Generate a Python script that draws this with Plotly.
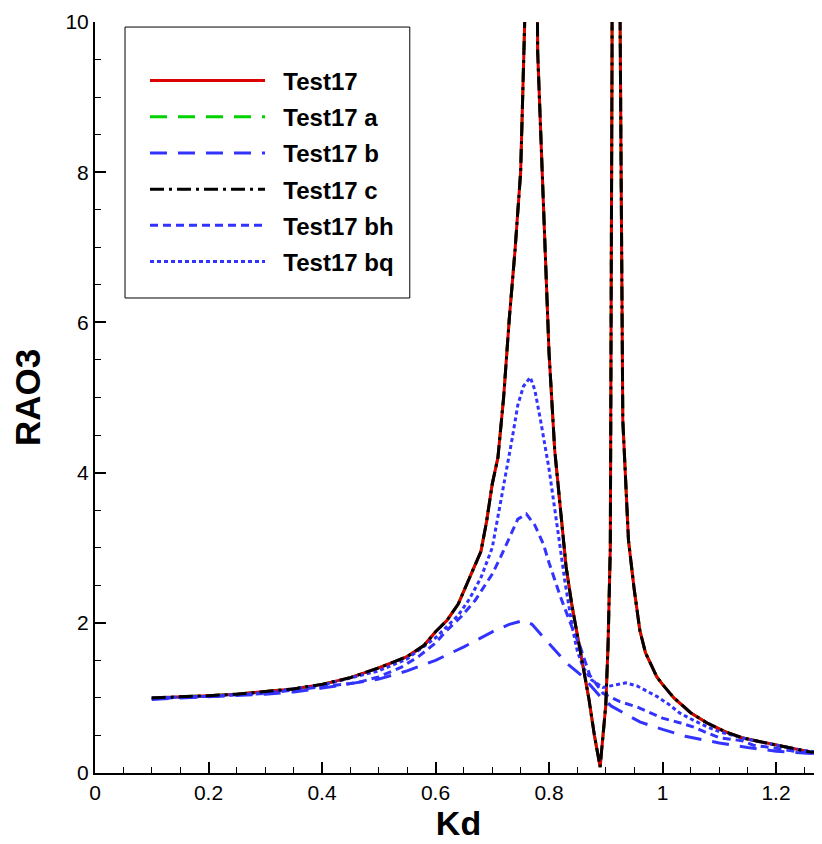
import plotly.graph_objects as go

# Test17 / Test17 a / Test17 c lie on top of each other
kd_main = [0.10, 0.15, 0.20, 0.25, 0.30, 0.35, 0.40, 0.45, 0.50, 0.55, 0.58, 0.60, 0.62, 0.64,
           0.66, 0.68, 0.69, 0.70, 0.71, 0.72, 0.73, 0.74, 0.75, 0.76, 0.77, 0.78, 0.79, 0.80,
           0.81, 0.82, 0.83, 0.84, 0.85, 0.86, 0.87, 0.88, 0.89, 0.90, 0.904, 0.908, 0.911,
           0.918, 0.925, 0.93, 0.94, 0.95, 0.96, 0.97, 0.98, 0.99, 1.00, 1.02, 1.05, 1.08,
           1.11, 1.14, 1.17, 1.20, 1.23, 1.26, 1.29]
rao_main = [1.00, 1.01, 1.03, 1.05, 1.08, 1.12, 1.18, 1.27, 1.40, 1.55, 1.70, 1.88, 2.03, 2.25,
            2.60, 2.95, 3.35, 3.85, 4.20, 5.00, 6.05, 6.95, 8.00, 10.8, 22.0, 9.6, 7.6, 5.6,
            4.3, 3.5, 2.75, 2.25, 1.85, 1.45, 1.00, 0.50, 0.08, 0.90, 1.70, 3.00, 9.5,
            40.0, 10.3, 4.7, 3.1, 2.45, 1.90, 1.60, 1.43, 1.28, 1.18, 1.00, 0.80, 0.66,
            0.55, 0.47, 0.42, 0.37, 0.32, 0.28, 0.26]

kd_b = [0.10, 0.20, 0.30, 0.35, 0.40, 0.45, 0.50, 0.55, 0.60, 0.65, 0.70, 0.73, 0.755, 0.77,
        0.80, 0.83, 0.86, 0.89, 0.91, 0.94, 0.96, 1.00, 1.04, 1.10, 1.15, 1.20, 1.25, 1.30]
rao_b = [0.98, 1.01, 1.05, 1.08, 1.13, 1.19, 1.25, 1.36, 1.50, 1.68, 1.88, 1.98, 2.03, 1.98,
         1.72, 1.47, 1.28, 1.02, 0.89, 0.77, 0.68, 0.58, 0.49, 0.40, 0.34, 0.29, 0.26, 0.24]

kd_bh = [0.10, 0.20, 0.30, 0.40, 0.46, 0.50, 0.54, 0.57, 0.60, 0.62, 0.645, 0.67, 0.68, 0.70,
         0.715, 0.73, 0.745, 0.76, 0.775, 0.79, 0.80, 0.82, 0.84, 0.855, 0.872, 0.895, 0.925,
         0.955, 0.98, 1.00, 1.03, 1.055, 1.08, 1.10, 1.14, 1.16, 1.20, 1.24, 1.30]
rao_bh = [0.99, 1.02, 1.06, 1.15, 1.20, 1.28, 1.41, 1.55, 1.73, 1.90, 2.08, 2.30, 2.42, 2.65,
          2.88, 3.14, 3.38, 3.45, 3.30, 3.05, 2.80, 2.35, 1.95, 1.68, 1.30, 1.06, 0.95,
          0.88, 0.80, 0.73, 0.67, 0.61, 0.53, 0.47, 0.43, 0.37, 0.33, 0.28, 0.24]

kd_bq = [0.10, 0.20, 0.30, 0.40, 0.50, 0.55, 0.60, 0.64, 0.66, 0.68, 0.70, 0.71, 0.72, 0.735,
         0.745, 0.755, 0.767, 0.775, 0.785, 0.80, 0.816, 0.828, 0.842, 0.85, 0.86, 0.875,
         0.895, 0.915, 0.935, 0.955, 0.97, 0.99, 1.01, 1.03, 1.055, 1.08, 1.10, 1.15, 1.20,
         1.25, 1.30]
rao_bq = [1.00, 1.02, 1.07, 1.17, 1.36, 1.52, 1.80, 2.10, 2.32, 2.60, 3.00, 3.40, 3.80, 4.45,
          4.90, 5.15, 5.27, 5.10, 4.70, 4.05, 3.20, 2.55, 1.90, 1.62, 1.41, 1.24,
          1.14, 1.17, 1.20, 1.16, 1.10, 1.02, 0.92, 0.80, 0.70, 0.61, 0.55, 0.45, 0.37,
          0.30, 0.25]

x_ticks = [0, 0.2, 0.4, 0.6, 0.8, 1, 1.2]
y_ticks = [0, 2, 4, 6, 8, 10]

BLUE = "rgb(51,51,255)"

fig = go.Figure()
# drawing order: green underneath, red, blues, black dash-dot on top; legend order via legendrank
series = [
    ("Test17 a", kd_main, rao_main, "rgb(0,210,0)", "17px,11px", 2),
    ("Test17", kd_main, rao_main, "rgb(220,0,0)", "solid", 1),
    ("Test17 b", kd_b, rao_b, BLUE, "17px,11px", 3),
    ("Test17 bh", kd_bh, rao_bh, BLUE, "8px,5px", 5),
    ("Test17 bq", kd_bq, rao_bq, BLUE, "4px,3px", 6),
    ("Test17 c", kd_main, rao_main, "black", "14px,5px,3px,5px", 4),
]
for name, xs, ys, color, dash, rank in series:
    fig.add_trace(go.Scatter(x=xs, y=ys, mode="lines",
                             name="&nbsp;&nbsp;<b>" + name + "</b>",
                             legendgroup=name, legendrank=rank,
                             line=dict(color=color, width=3, dash=dash)))

axis_common = dict(showline=True, linecolor="black", linewidth=2, mirror=False,
                   ticks="inside", ticklen=11, tickwidth=2, tickcolor="black",
                   showgrid=False, zeroline=False, automargin=False,
                   tickfont=dict(family="Liberation Sans Narrow, Liberation Sans", size=21, color="black"))

fig.update_xaxes(range=[0, 1.281], tickvals=x_ticks, ticktext=["0", "0.2", "0.4", "0.6", "0.8", "1", "1.2"],
                 minor=dict(dtick=0.05, ticks="inside", ticklen=6, tickwidth=1, tickcolor="black"),
                 title=dict(text="<b>Kd</b>", font=dict(family="Liberation Sans", size=34, color="black"),
                            standoff=4),
                 **axis_common)
fig.update_yaxes(range=[0, 10], tickvals=y_ticks,
                 minor=dict(dtick=0.5, ticks="inside", ticklen=6, tickwidth=1, tickcolor="black"),
                 title=dict(text="<b>RAO3</b>", font=dict(family="Liberation Sans", size=35, color="black"),
                            standoff=25),
                 **axis_common)

# frame of the legend box
fig.add_shape(type="rect", xref="paper", yref="paper", x0=0.0413, x1=0.433, y0=0.6325, y1=0.9933,
              line=dict(color="black", width=1), fillcolor="white", layer="below")

fig.update_layout(
    width=814, height=836,
    margin=dict(l=87, r=0, t=14, b=71),
    plot_bgcolor="white", paper_bgcolor="white",
    legend=dict(x=0.0688, y=0.993, xanchor="left", yanchor="top",
                bgcolor="rgba(0,0,0,0)", borderwidth=0,
                itemwidth=115, tracegroupgap=2, traceorder="grouped",
                title=dict(text=" ", font=dict(size=24)),
                font=dict(family="Liberation Sans", size=24, color="black")),
)

fig.write_html("out.html")
